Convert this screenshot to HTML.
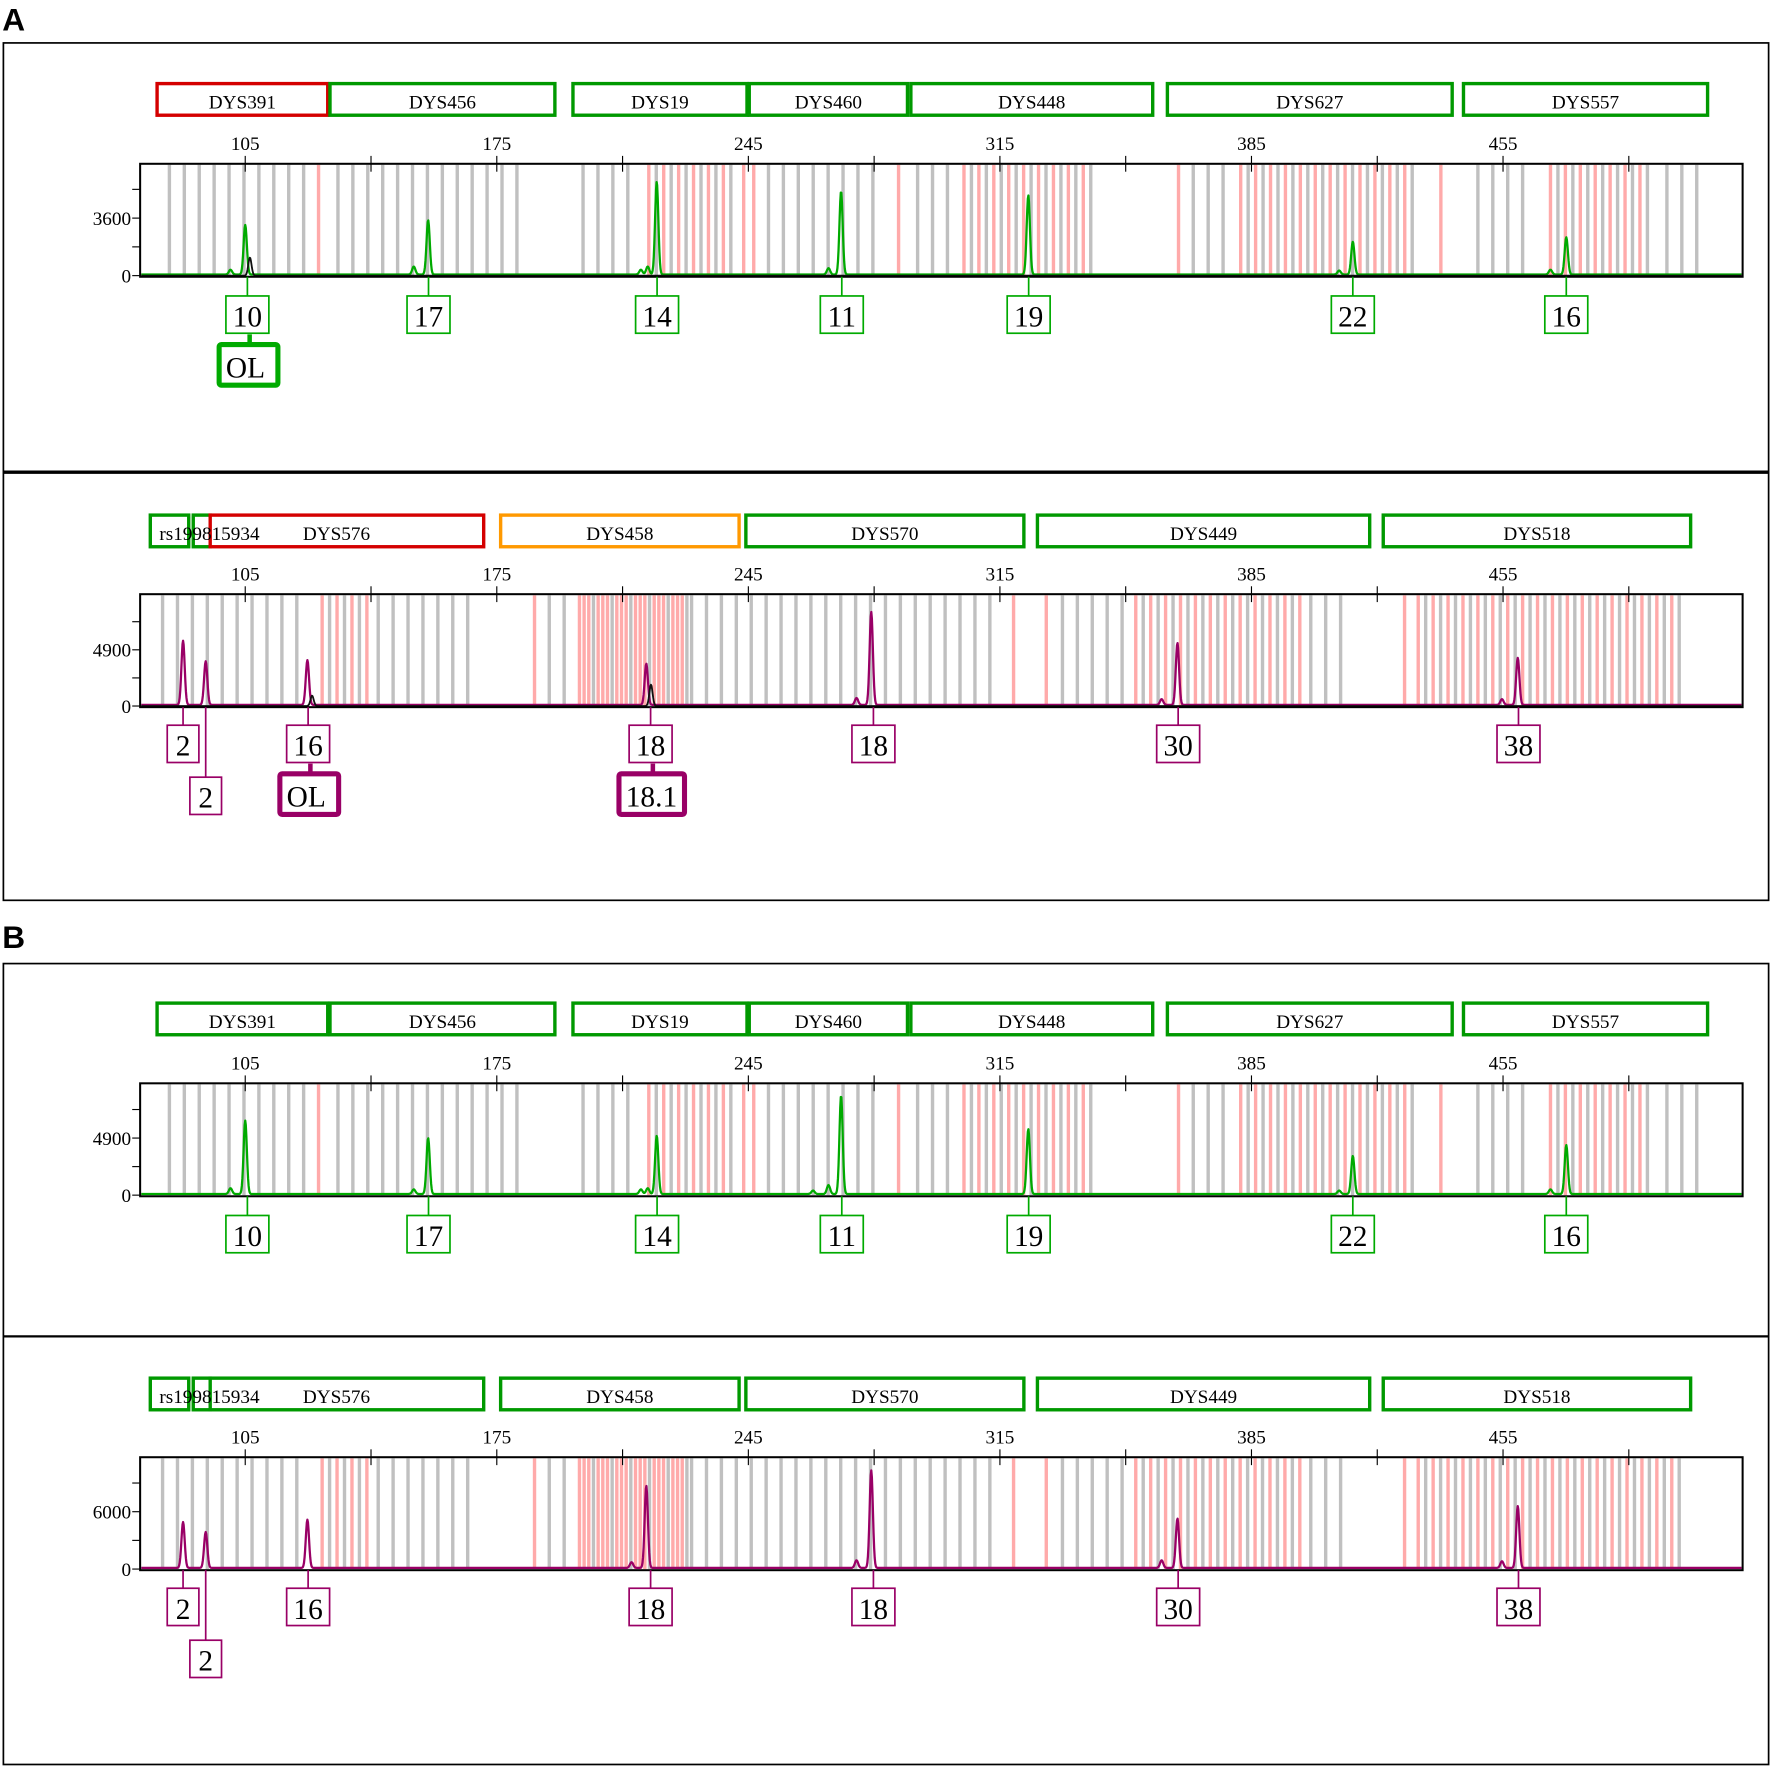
<!DOCTYPE html>
<html><head><meta charset="utf-8"><style>
html,body{margin:0;padding:0;background:#fff;}
svg{display:block;}
text{font-family:"Liberation Serif","Noto Serif CJK SC",serif;}
</style></head><body>
<svg id="root" xmlns="http://www.w3.org/2000/svg" width="1772" height="1769" viewBox="0 0 1568 1566" preserveAspectRatio="none">
<text x="2" y="27" font-size="28" font-weight="bold" style="font-family:'Liberation Sans',sans-serif">A</text>
<text x="2" y="839" font-size="28" font-weight="bold" style="font-family:'Liberation Sans',sans-serif">B</text>
<rect x="3" y="38" width="1562" height="759" fill="none" stroke="#000" stroke-width="1.5"/>
<line x1="3" y1="418" x2="1565" y2="418" stroke="#000" stroke-width="3"/>
<rect x="3" y="853" width="1562" height="709" fill="none" stroke="#000" stroke-width="1.5"/>
<line x1="3" y1="1183" x2="1565" y2="1183" stroke="#000" stroke-width="2"/>
</svg>
<script>
// ---- data ----
const tickValues = [105, 140, 175, 210, 245, 280, 315, 350, 385, 420, 455, 490];
const tickLabels = ["105", "", "175", "", "245", "", "315", "", "385", "", "455", ""];

// bin groups (bp): [from, to, type]  g=gray p=pink a=alternating d=dense-pink
const binsGreen = [[83.9,121.4,'g'],[125.4,125.4,'p'],[130.8,184.6,'g'],[199,215.1,'g'],[217.3,240.2,'a'],[243.7,243.7,'p'],[246.5,246.5,'p'],[250.6,283.3,'g'],[286.8,286.8,'p'],[292.1,304.1,'g'],[305,340.8,'a'],[364.7,364.7,'p'],[368.8,381.1,'g'],[382,429.8,'a'],[437.7,437.7,'p'],[448,464.4,'g'],[468.2,495.9,'a'],[500.6,510,'g']];
const binsPurple = [[82,122,'g'],[126.4,140.5,'a'],[142,167.3,'g'],[185.5,185.5,'p'],[189.6,197.1,'g'],[198,228,'d'],[229.2,314.4,'g'],[318.8,318.8,'p'],[327.9,327.9,'p'],[332.4,351.2,'g'],[352.8,400,'a'],[401.5,412.5,'g'],[427.6,427.6,'p'],[431.4,505.3,'a']];

// peaks
const p1Bp = [100.9,105,151.9,155.9,215.1,217,219.5,267.3,270.8,322.9,409.4,413.2,468.2,472.6];
const p1H  = [300,3100,500,3400,300,500,5800,400,5200,4950,250,2050,300,2330];
const p1BlackBp = [106.3];
const p1BlackH = [1130];
const p2Bp = [87.7,94,122.3,216.6,275.1,279.2,360,364.4,454.7,459.1];
const p2H  = [5600,3800,3900,3600,600,8100,500,5400,500,4100];
const p2BlackBp = [123.6,217.9];
const p2BlackH = [900,1860];
const p3Bp = [100.9,105,151.9,155.9,215.1,217,219.5,263,267.3,270.8,322.9,409.4,413.2,468.2,472.6];
const p3H  = [500,6300,400,4800,400,500,5000,300,770,8450,5570,300,3260,400,4200];
const p4Bp = [87.7,94,122.3,212.5,216.6,275.1,279.2,360,364.4,454.7,459.1];
const p4H  = [4800,3760,5050,600,8600,800,10200,800,5170,700,6470];

// markers
const mkGreenA = [["DYS391",139,290,"#d40000"],["DYS456",292,491,"#009900"],["DYS19",507,661,"#009900"],["DYS460",663,803,"#009900"],["DYS448",806,1020,"#009900"],["DYS627",1033,1285,"#009900"],["DYS557",1295,1511,"#009900"]];
const mkPurpleA = [["",133,167,"#009900"],["",171,186,"#009900"],["",186,428,"#d40000"],["DYS458",443,654,"#ff9900"],["DYS570",660,906,"#009900"],["DYS449",918,1212,"#009900"],["DYS518",1224,1496,"#009900"]];
const mkGreenB = [["DYS391",139,290,"#009900"],["DYS456",292,491,"#009900"],["DYS19",507,661,"#009900"],["DYS460",663,803,"#009900"],["DYS448",806,1020,"#009900"],["DYS627",1033,1285,"#009900"],["DYS557",1295,1511,"#009900"]];
const mkPurpleB = [["",133,167,"#009900"],["",171,186,"#009900"],["",186,428,"#009900"],["DYS458",443,654,"#009900"],["DYS570",660,906,"#009900"],["DYS449",918,1212,"#009900"],["DYS518",1224,1496,"#009900"]];

// allele calls: [label, bp, row, thick]
const callsGreenA = [["10",105.6,0,0],["OL",105.6,1,1],["17",156,0,0],["14",219.6,0,0],["11",271,0,0],["19",323,0,0],["22",413.2,0,0],["16",472.6,0,0]];
const callsPurpleA = [["2",87.7,0,0],["2",94,1,0],["16",122.5,0,0],["OL",122.5,1,1],["18",217.8,0,0],["18.1",217.8,1,1],["18",279.8,0,0],["30",364.6,0,0],["38",459.3,0,0]];
const callsGreenB = [["10",105.6,0,0],["17",156,0,0],["14",219.6,0,0],["11",271,0,0],["19",323,0,0],["22",413.2,0,0],["16",472.6,0,0]];
const callsPurpleB = [["2",87.7,0,0],["2",94,1,0],["16",122.5,0,0],["18",217.8,0,0],["18",279.8,0,0],["30",364.6,0,0],["38",459.3,0,0]];

// ---- drawing ----
const NS = "http://www.w3.org/2000/svg";
const root = document.getElementById('root');
const PL = 124, PR = 1542;
function xs(bp){ return 217 + (bp - 105) * 3.18; }
function mk(tag, attrs, parent){ const e = document.createElementNS(NS, tag); for (const k in attrs) e.setAttribute(k, attrs[k]); (parent||root).appendChild(e); return e; }

function panel(cfg){
  const g = mk('g', {});
  
  
  const top = cfg.top, bot = top + 100, base = bot - 1;
  const ys = v => base - v / cfg.yMax * 99;
  // markers
  cfg.markers.forEach(m => {
    const r = mk('rect', {x:m[1], y:cfg.hdr, width:m[2]-m[1], height:28, fill:'#fff', stroke:m[3], 'stroke-width':3}, g);
    
    
    if (m[0]) {
      const t = mk('text', {x:(m[1]+m[2])/2, y:cfg.hdr+22, 'font-size':17, 'text-anchor':'middle'}, g);
      t.textContent = m[0];
      
      
    }
  });
  if (cfg.rs) {
    const t = mk('text', {x:141, y:cfg.hdr+22, 'font-size':17}, g);
    t.textContent = "rs199815934";
    
    
    const t2 = mk('text', {x:268, y:cfg.hdr+22, 'font-size':17}, g);
    t2.textContent = "DYS576";
    
    
  }
  // bins
  const stepBp = 4.15;
  cfg.bins.forEach(b => {
    const from = b[0], to = b[1], type = b[2];
    let step = type === 'a' ? stepBp/2 : (type === 'd' ? 1.3 : stepBp);
    let i = 0;
    for (let v = from; v <= to + 0.01; v += step, i++) {
      let col = '#c0c0c0';
      if (type === 'p') col = '#ffaaaa';
      else if (type === 'a') col = (i % 2 === 0) ? '#ffaaaa' : '#c0c0c0';
      else if (type === 'd') col = (i % 4 === 3) ? '#c0c0c0' : '#ffaaaa';
      const l = mk('line', {x1:xs(v), x2:xs(v), y1:top+1, y2:base, stroke:col, 'stroke-width':3}, g);
      
      
    }
  });
  // trace
  function trace(bps, hs, color, width, baseline, name){
    let d = '';
    for (let px = PL + 1; px <= PR - 1; px += 0.5) {
      const bp = 105 + (px - 217) / 3.18;
      let v = baseline;
      for (let k = 0; k < bps.length; k++) { const z = (bp - bps[k]) / 0.45; v += hs[k] * Math.exp(-0.5 * z * z); }
      d += (d ? 'L' : 'M') + px.toFixed(1) + ',' + ys(v).toFixed(1);
    }
    const p = mk('path', {d:d, fill:'none', stroke:color, 'stroke-width':width, 'stroke-linejoin':'round'}, g);
    
    
  }
  trace(cfg.peakBp, cfg.peakH, cfg.color, 2, cfg.yMax*0.01, 'signal-trace');
  if (cfg.blackBp) trace(cfg.blackBp, cfg.blackH, '#111', 1.6, 0, 'secondary-trace');
  // frame
  const fr = mk('rect', {x:PL, y:top, width:PR-PL, height:100, fill:'none', stroke:'#000', 'stroke-width':1.8}, g);
  
  
  // x ticks
  tickValues.forEach((v, i) => {
    const l = mk('line', {x1:xs(v), x2:xs(v), y1:top-7, y2:top+7, stroke:'#000', 'stroke-width':1}, g);
    
    
    if (tickLabels[i]) {
      const t = mk('text', {x:xs(v), y:top-12, 'font-size':17, 'text-anchor':'middle'}, g);
      t.textContent = tickLabels[i];
      
      
    }
  });
  // y ticks
  for (let k = 0; k * cfg.yTick / 2 <= cfg.yMax; k++) {
    const y = ys(k * cfg.yTick / 2);
    const l = mk('line', {x1:PL-7, x2:PL, y1:y, y2:y, stroke:'#000', 'stroke-width':1}, g);
    
    
  }
  [0, cfg.yTick].forEach(v => {
    const t = mk('text', {x:PL-8, y:ys(v)+6, 'font-size':17, 'text-anchor':'end'}, g);
    t.textContent = String(v);
    
    
  });
  // calls
  cfg.calls.forEach(c => {
    const label = c[0], cx = xs(c[1]), row = c[2], thick = c[3];
    const bw = label.length === 1 ? 28 : (label.length === 2 ? 38 : 56);
    if (thick) {
      const y0 = cfg.callY + 43, bx = label.length > 2 ? cx - 28 : cx - 25, w = label.length > 2 ? 58 : 52;
      const l = mk('line', {x1:cx+2, x2:cx+2, y1:cfg.callY+34, y2:y0, stroke:cfg.color, 'stroke-width':4}, g);
      
      
      const r = mk('rect', {x:bx, y:y0, width:w, height:36, fill:'#fff', stroke:cfg.color, 'stroke-width':4.5, rx:2}, g);
      
      
      const t = mk('text', {x:bx+6, y:y0+29, 'font-size':26}, g);
      t.textContent = label;
      
      
    } else {
      const y0 = cfg.callY + row * 46;
      const l = mk('line', {x1:cx, x2:cx, y1:bot, y2:y0, stroke:cfg.color, 'stroke-width':1.5}, g);
      
      
      const r = mk('rect', {x:cx-bw/2, y:y0, width:bw, height:33, fill:'#fff', stroke:cfg.color, 'stroke-width':1.5}, g);
      
      
      const t = mk('text', {x:cx, y:y0+27, 'font-size':26, 'text-anchor':'middle'}, g);
      t.textContent = label;
      
      
    }
  });
}
const G = '#00aa00', P = '#990066';
panel({name:'panel-a-green', top:145, hdr:74, markers:mkGreenA, bins:binsGreen, peakBp:p1Bp, peakH:p1H, blackBp:p1BlackBp, blackH:p1BlackH, color:G, yMax:7000, yTick:3600, calls:callsGreenA, callY:262});
panel({name:'panel-a-purple', top:526, hdr:456, rs:true, markers:mkPurpleA, bins:binsPurple, peakBp:p2Bp, peakH:p2H, blackBp:p2BlackBp, blackH:p2BlackH, color:P, yMax:9750, yTick:4900, calls:callsPurpleA, callY:642});
panel({name:'panel-b-green', top:959, hdr:888, markers:mkGreenB, bins:binsGreen, peakBp:p3Bp, peakH:p3H, color:G, yMax:9600, yTick:4900, calls:callsGreenB, callY:1076});
panel({name:'panel-b-purple', top:1290, hdr:1220, rs:true, markers:mkPurpleB, bins:binsPurple, peakBp:p4Bp, peakH:p4H, color:P, yMax:11700, yTick:6000, calls:callsPurpleB, callY:1406});
</script>
</body></html>
